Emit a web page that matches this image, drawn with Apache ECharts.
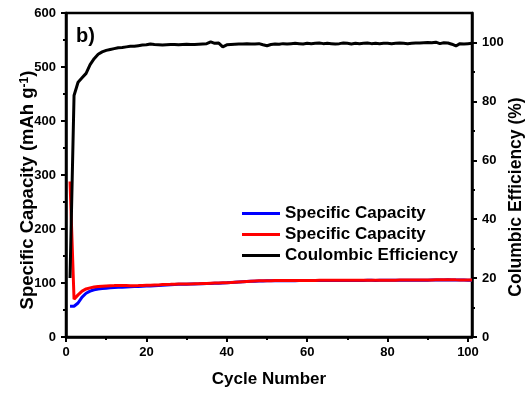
<!DOCTYPE html>
<html>
<head>
<meta charset="utf-8">
<script src="https://cdn.jsdelivr.net/npm/echarts@6/dist/echarts.min.js"></script>
<style>
  html, body { margin: 0; padding: 0; background: #fff; }
  #chart { width: 528px; height: 393px; }
</style>
</head>
<body>
<div id="chart"></div>
<script>
// Cycle-life data: capacities (mAh g-1) and coulombic efficiency (%) per cycle
const chargeCapacity = [
  57, 57, 63, 74, 81, 85, 87.5, 89, 90, 90.5,
  91, 91.5, 92, 92.3, 92.5, 93, 93.3, 93.6, 94, 94.3,
  94.6, 95, 95.4, 96, 96.5, 96.8, 97.2, 97.5, 97.6, 97.8,
  98, 98.2, 98.4, 98.7, 99, 99.2, 99.5, 99.7, 100, 100.3,
  100.7, 101.2, 101.7, 102.2, 102.7, 103.1, 103.4, 103.7, 103.9, 104,
  104, 104.1, 104.1, 104.2, 104.2, 104.3, 104.3, 104.4, 104.4, 104.5,
  104.5, 104.5, 104.6, 104.6, 104.6, 104.7, 104.7, 104.7, 104.7, 104.7,
  104.8, 104.8, 104.7, 104.8, 104.9, 104.9, 104.8, 104.9, 104.9, 105,
  105, 105, 105.1, 105.1, 105.1, 105.2, 105.2, 105.2, 105.3, 105.3,
  105.4, 105.5, 105.6, 105.7, 105.8, 105.7, 105.5, 105.4, 105.4, 105.3, 105.3
];
const dischargeCapacity = [
  288, 70, 78, 85, 89, 91, 92.5, 93.5, 94, 94.5,
  95, 95.2, 95.5, 95.5, 95.3, 95, 95, 95.2, 95.5, 95.8,
  96, 96.3, 96.5, 97, 97.3, 97.5, 97.8, 98, 98, 98.2,
  98.3, 98.5, 98.7, 99, 99.2, 99.5, 99.8, 100, 100.3, 100.6,
  101, 101.5, 102, 102.5, 103, 103.4, 103.7, 104, 104.2, 104.3,
  104.3, 104.4, 104.4, 104.5, 104.5, 104.6, 104.6, 104.7, 104.7, 104.8,
  104.8, 104.8, 104.9, 104.9, 104.9, 105, 105, 105, 105, 105,
  105.1, 105.1, 105, 105.1, 105.2, 105.2, 105.1, 105.2, 105.2, 105.3,
  105.3, 105.3, 105.4, 105.4, 105.4, 105.5, 105.5, 105.5, 105.6, 105.6,
  105.7, 105.8, 105.9, 106, 106.1, 106, 105.8, 105.7, 105.7, 105.6, 105.6
];
const coulombicEfficiency = [
  20, 82, 86.5, 88, 89.5, 92.5, 94.5, 96, 96.8, 97.3,
  97.6, 97.9, 98.2, 98.3, 98.5, 98.7, 98.7, 98.9, 99.1, 99.2,
  99.5, 99.3, 99.2, 99.1, 99.2, 99.3, 99.3, 99.2, 99.3, 99.4,
  99.3, 99.3, 99.4, 99.5, 99.6, 100.2, 99.7, 99.8, 98.5, 99.2,
  99.3, 99.4, 99.5, 99.5, 99.6, 99.5, 99.5, 99.6, 99.2, 98.9,
  99.3, 99.5, 99.4, 99.6, 99.5, 99.6, 99.7, 99.6, 99.5, 99.7,
  99.6, 99.7, 99.8, 99.6, 99.7, 99.6, 99.5, 99.6, 99.8, 99.7,
  99.5, 99.7, 99.6, 99.7, 99.8, 99.6, 99.7, 99.6, 99.7, 99.7,
  99.6, 99.7, 99.8, 99.7, 99.6, 99.7, 99.8, 99.8, 99.9, 100.0,
  99.9, 100.1, 99.6, 99.9, 99.8, 99.4, 98.8, 99.6, 99.5, 99.6, 99.7
];
const xTicks = [0, 20, 40, 60, 80, 100];
const capacityTicks = [0, 100, 200, 300, 400, 500, 600];
const efficiencyTicks = [0, 20, 40, 60, 80, 100];

// cycle index 1..N
const cycles = chargeCapacity.map((_, i) => i + 1);
const pairs = (vals) => vals.map((v, i) => [cycles[i], v]);

const FONT = 'Arial, "Liberation Sans", sans-serif';
const AXIS_COLOR = '#000';
const labelStyle = { color: '#000', fontFamily: FONT, fontWeight: 'bold', fontSize: 13 };
const nameStyle = { color: '#000', fontFamily: FONT, fontWeight: 'bold', fontSize: 17 };
const axisLine = { show: true, lineStyle: { color: AXIS_COLOR, width: 2.5 } };
const tick = { show: true, inside: false, length: 5, lineStyle: { color: AXIS_COLOR, width: 2 } };
const minor = { show: true, splitNumber: 2, length: 3, lineStyle: { color: AXIS_COLOR, width: 2 } };

const chart = echarts.init(document.getElementById('chart'), null, { renderer: 'canvas' });
chart.setOption({
  animation: false,
  backgroundColor: '#fff',
  grid: {
    left: 66, right: 56, top: 13, bottom: 52,
    show: true, borderColor: AXIS_COLOR, borderWidth: 2.5, backgroundColor: 'transparent'
  },
  graphic: [{
    type: 'text', left: 76, top: 26,
    style: { text: 'b)', fill: '#000', font: 'bold 20px ' + FONT }
  }, {
    // left axis title, rotated to read bottom-to-top
    type: 'text', x: 28, y: 190, rotation: Math.PI / 2,
    style: {
      text: '{t|Specific Capacity (mAh g}{s|-1}{t|)}',
      align: 'center', verticalAlign: 'middle',
      rich: {
        t: { fontFamily: FONT, fontWeight: 'bold', fontSize: 18.5, fill: '#000', color: '#000' },
        s: { fontFamily: FONT, fontWeight: 'bold', fontSize: 12, fill: '#000', color: '#000', verticalAlign: 'top', lineHeight: 12 }
      }
    }
  }, {
    // right axis title
    type: 'text', x: 516, y: 197, rotation: Math.PI / 2,
    style: {
      text: 'Columbic Efficiency (%)',
      align: 'center', verticalAlign: 'middle',
      fill: '#000', font: 'bold 17.5px ' + FONT
    }
  }],
  legend: {
    orient: 'vertical', left: 237, top: 200,
    itemWidth: 38, itemHeight: 3, itemGap: 4,
    icon: 'rect',
    textStyle: { color: '#000', fontFamily: FONT, fontWeight: 'bold', fontSize: 17 },
    formatter: (name) => name.replace(/ [AB]$/, ''),
    data: ['Specific Capacity A', 'Specific Capacity B', 'Coulombic Efficiency']
  },
  xAxis: {
    type: 'value', min: 0, max: 101, interval: 20,
    name: 'Cycle Number', nameLocation: 'middle', nameGap: 34, nameTextStyle: nameStyle,
    axisLine: axisLine,
    axisTick: Object.assign({}, tick, { customValues: xTicks }),
    minorTick: minor,
    axisLabel: Object.assign({}, labelStyle, { margin: 9, customValues: xTicks }),
    splitLine: { show: false }
  },
  yAxis: [{
    type: 'value', min: 0, max: 600, interval: 100, position: 'left',
    axisLine: axisLine,
    axisTick: Object.assign({}, tick, { customValues: capacityTicks }),
    minorTick: minor,
    axisLabel: Object.assign({}, labelStyle, { margin: 10, customValues: capacityTicks }),
    splitLine: { show: false }
  }, {
    type: 'value', min: 0, max: 110, interval: 20, position: 'right',
    axisLine: axisLine,
    axisTick: Object.assign({}, tick, { customValues: efficiencyTicks }),
    minorTick: minor,
    axisLabel: Object.assign({}, labelStyle, { margin: 10, customValues: efficiencyTicks }),
    splitLine: { show: false }
  }],
  series: [{
    name: 'Specific Capacity A', type: 'line', yAxisIndex: 0,
    data: pairs(chargeCapacity), symbol: 'none',
    lineStyle: { color: '#0000ff', width: 3 }, itemStyle: { color: '#0000ff' }, z: 2
  }, {
    name: 'Specific Capacity B', type: 'line', yAxisIndex: 0,
    data: pairs(dischargeCapacity), symbol: 'none',
    lineStyle: { color: '#ff0000', width: 3 }, itemStyle: { color: '#ff0000' }, z: 3
  }, {
    name: 'Coulombic Efficiency', type: 'line', yAxisIndex: 1,
    data: pairs(coulombicEfficiency), symbol: 'none',
    lineStyle: { color: '#000', width: 3 }, itemStyle: { color: '#000' }, z: 4
  }]
});
</script>
</body>
</html>
